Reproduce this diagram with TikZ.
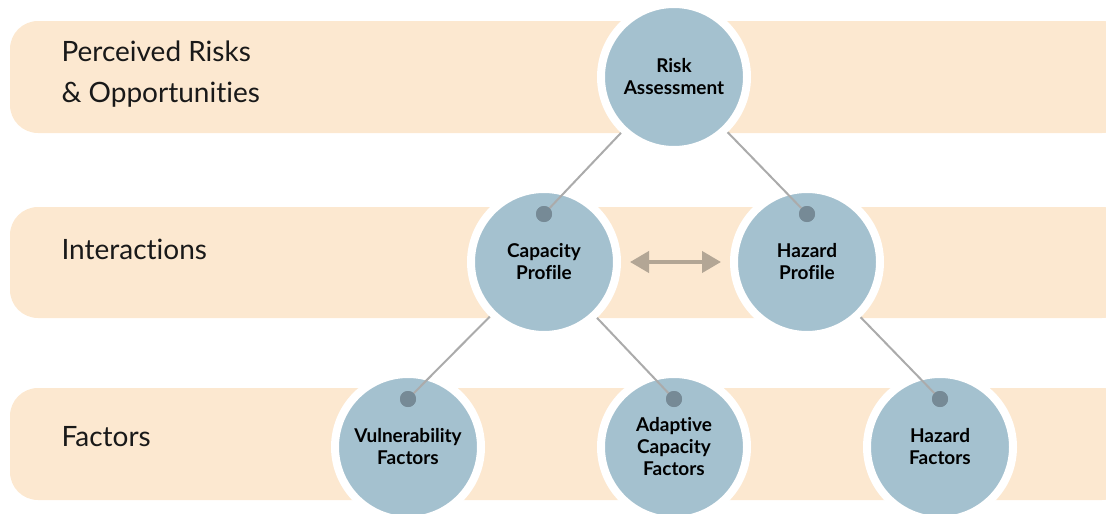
\documentclass[tikz,border=0pt]{standalone}
\usepackage{fontspec}
\setmainfont{Lato}[Ligatures=CommonOff]
\usetikzlibrary{arrows.meta}
\definecolor{bandfill}{HTML}{FCE8D0}
\definecolor{stagefill}{HTML}{A4C1CF}
\definecolor{dotfill}{HTML}{768A96}
\definecolor{linkgray}{HTML}{ABABAB}
\definecolor{arrowtan}{HTML}{B3A695}
\begin{document}
\begin{tikzpicture}[x=1pt, y=-1pt]
    \tikzstyle{band}=[fill=bandfill, rounded corners=28pt]
    \tikzstyle{level}=[anchor=west, align=left, text=black!90, font=\fontsize{28}{41}\selectfont]
    \tikzstyle{stage}=[circle, fill=stagefill, draw=white, line width=8pt, minimum size=146pt,
        align=center, font=\fontsize{19}{22}\selectfont\bfseries]
    \tikzstyle{dot}=[circle, fill=dotfill, inner sep=0pt, minimum size=16pt]
    \tikzstyle{link}=[draw=linkgray, line width=2pt]
    \tikzstyle{twoway}=[draw=arrowtan, line width=4pt, {Triangle[length=19pt,width=21pt]}-{Triangle[length=19pt,width=21pt]},
        shorten <=9pt, shorten >=9pt]

    \useasboundingbox (0,0) rectangle (1106,514);

    % Draw bands
    \fill[band] (10,21) rectangle (1130,133);
    \fill[band] (10,207) rectangle (1130,318);
    \fill[band] (10,388) rectangle (1130,500);

    % Add band labels
    \node[level] (risks) at (58,74) {Perceived Risks\\\& Opportunities};
    \node[level] (inter) at (58,249) {Interactions};
    \node[level] (facts) at (58,437) {Factors};

    % Draw stages top to bottom
    \node[stage] (ra) at (674,77) {Risk\\Assessment};
    \node[stage] (cp) at (544,262) {Capacity\\Profile};
    \node[stage] (hp) at (807,262) {Hazard\\Profile};
    \node[stage] (vf) at (408,447) {Vulnerability\\Factors};
    \node[stage] (af) at (674,447) {Adaptive\\Capacity\\Factors};
    \node[stage] (hf) at (940,447) {Hazard\\Factors};

    % Add dots and links
    \foreach \child/\parent in {cp/ra, hp/ra, vf/cp, af/cp, hf/hp} {
        \node[dot] (\child dot) at ([yshift=48pt]\child.center) {};
        \draw[link] (\child dot.center) -- (\parent);
        \node[dot] at (\child dot) {};
    }

    % Add double arrow
    \draw[twoway] (cp) -- (hp);
\end{tikzpicture}
\end{document}
